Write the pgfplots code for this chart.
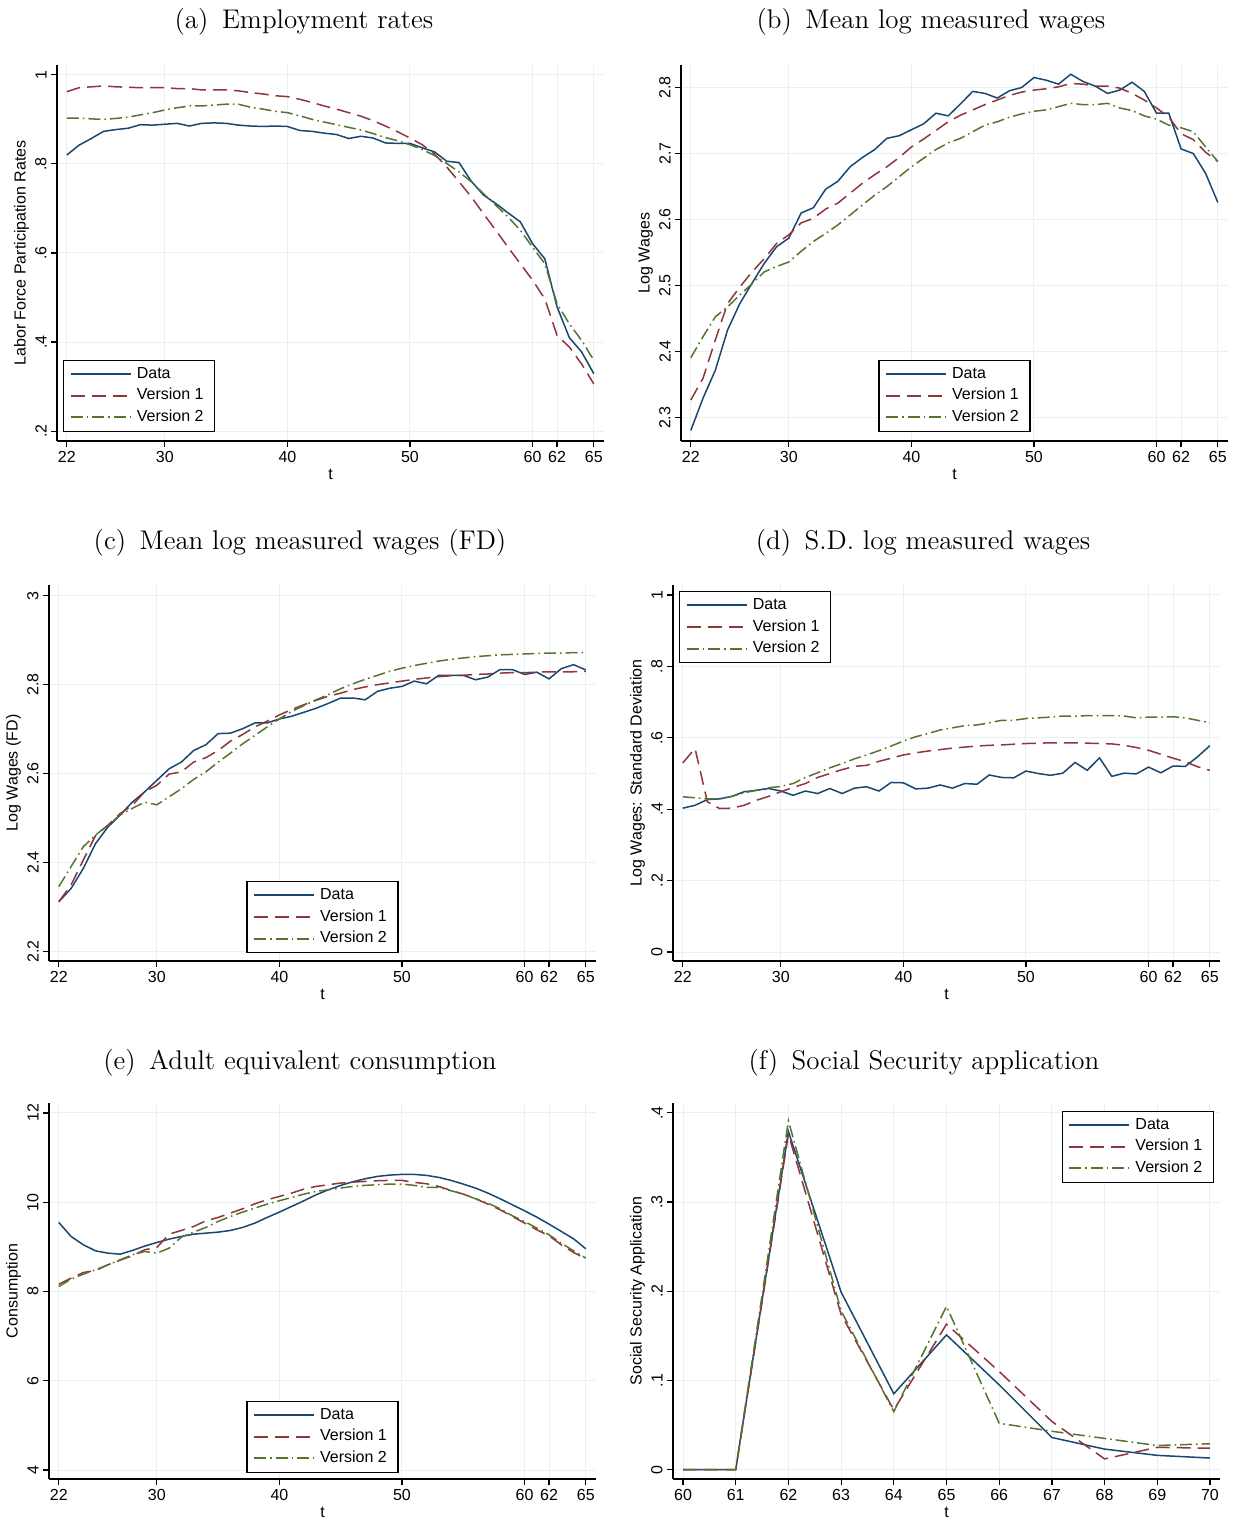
\documentclass[border=0pt]{standalone}
\usepackage{pgfplots}
\usepackage{pgfplotstable}
\pgfplotsset{compat=1.18}
\usepackage{fontspec}
\newfontfamily\arialf{Liberation Sans}
\definecolor{sdata}{RGB}{26,71,111}
\definecolor{sv1}{RGB}{144,53,59}
\definecolor{sv2}{RGB}{85,117,47}
\definecolor{gridc}{RGB}{232,241,242}

\pgfplotstableread{
t d v1 v2
22 0.820 0.962 0.903
23 0.842 0.971 0.903
24 0.857 0.973 0.901
25 0.873 0.975 0.900
26 0.877 0.973 0.902
27 0.880 0.972 0.905
28 0.888 0.971 0.910
29 0.887 0.971 0.915
30 0.889 0.971 0.921
31 0.891 0.969 0.926
32 0.885 0.969 0.930
33 0.891 0.966 0.930
34 0.892 0.966 0.932
35 0.891 0.966 0.934
36 0.887 0.964 0.934
37 0.885 0.960 0.927
38 0.884 0.957 0.923
39 0.885 0.953 0.918
40 0.884 0.951 0.915
41 0.875 0.945 0.908
42 0.873 0.938 0.900
43 0.869 0.930 0.894
44 0.866 0.923 0.888
45 0.857 0.915 0.882
46 0.862 0.907 0.876
47 0.858 0.897 0.868
48 0.847 0.885 0.859
49 0.846 0.872 0.852
50 0.846 0.858 0.843
51 0.836 0.843 0.832
52 0.827 0.822 0.819
53 0.806 0.793 0.801
54 0.803 0.760 0.782
55 0.761 0.726 0.760
56 0.730 0.688 0.733
57 0.711 0.651 0.707
58 0.690 0.613 0.681
59 0.670 0.576 0.651
60 0.621 0.539 0.613
61 0.587 0.497 0.576
62 0.479 0.415 0.486
63 0.410 0.389 0.441
64 0.378 0.351 0.404
65 0.329 0.306 0.359
}\tabA

\pgfplotstableread{
t d v1 v2
22 2.281 2.327 2.391
23 2.330 2.360 2.423
24 2.372 2.418 2.453
25 2.433 2.473 2.468
26 2.473 2.498 2.486
27 2.504 2.521 2.503
28 2.534 2.541 2.521
29 2.559 2.564 2.529
30 2.572 2.577 2.536
31 2.610 2.595 2.552
32 2.618 2.602 2.567
33 2.646 2.616 2.579
34 2.658 2.625 2.592
35 2.680 2.640 2.607
36 2.694 2.655 2.622
37 2.706 2.668 2.637
38 2.723 2.680 2.650
39 2.727 2.694 2.665
40 2.736 2.710 2.680
41 2.745 2.722 2.693
42 2.761 2.735 2.706
43 2.757 2.748 2.716
44 2.775 2.758 2.723
45 2.794 2.766 2.733
46 2.791 2.774 2.743
47 2.784 2.781 2.748
48 2.795 2.788 2.755
49 2.800 2.793 2.760
50 2.815 2.796 2.764
51 2.811 2.798 2.766
52 2.805 2.801 2.771
53 2.820 2.806 2.776
54 2.809 2.805 2.774
55 2.802 2.802 2.774
56 2.791 2.802 2.776
57 2.796 2.799 2.769
58 2.808 2.791 2.765
59 2.794 2.781 2.757
60 2.761 2.769 2.752
61 2.761 2.755 2.743
62 2.707 2.730 2.739
63 2.700 2.721 2.733
64 2.670 2.702 2.710
65 2.626 2.688 2.688
}\tabB

\pgfplotstableread{
t d v1 v2
22 2.312 2.312 2.346
23 2.342 2.350 2.391
24 2.387 2.406 2.436
25 2.443 2.461 2.462
26 2.480 2.484 2.484
27 2.507 2.510 2.507
28 2.536 2.529 2.522
29 2.559 2.559 2.536
30 2.585 2.574 2.530
31 2.611 2.599 2.548
32 2.626 2.604 2.566
33 2.652 2.626 2.587
34 2.665 2.636 2.604
35 2.690 2.652 2.626
36 2.691 2.673 2.646
37 2.701 2.688 2.667
38 2.714 2.705 2.686
39 2.714 2.718 2.705
40 2.723 2.732 2.723
41 2.729 2.744 2.740
42 2.738 2.755 2.753
43 2.747 2.765 2.766
44 2.758 2.774 2.778
45 2.770 2.781 2.791
46 2.770 2.789 2.802
47 2.766 2.795 2.812
48 2.785 2.800 2.821
49 2.792 2.804 2.830
50 2.796 2.808 2.837
51 2.808 2.812 2.843
52 2.802 2.815 2.848
53 2.821 2.818 2.853
54 2.821 2.820 2.857
55 2.821 2.821 2.860
56 2.811 2.823 2.863
57 2.817 2.824 2.865
58 2.834 2.826 2.867
59 2.834 2.827 2.868
60 2.823 2.827 2.869
61 2.828 2.828 2.870
62 2.813 2.829 2.871
63 2.836 2.829 2.871
64 2.845 2.829 2.872
65 2.833 2.830 2.872
}\tabC

\pgfplotstableread{
t d v1 v2
22 0.403 0.530 0.435
23 0.411 0.570 0.432
24 0.427 0.421 0.429
25 0.429 0.402 0.429
26 0.436 0.403 0.436
27 0.449 0.411 0.446
28 0.453 0.425 0.453
29 0.458 0.436 0.460
30 0.451 0.449 0.464
31 0.439 0.461 0.472
32 0.451 0.472 0.489
33 0.444 0.489 0.502
34 0.458 0.500 0.516
35 0.444 0.511 0.528
36 0.459 0.520 0.541
37 0.463 0.523 0.552
38 0.451 0.534 0.564
39 0.475 0.543 0.577
40 0.474 0.552 0.591
41 0.457 0.558 0.603
42 0.459 0.563 0.612
43 0.468 0.567 0.622
44 0.459 0.571 0.628
45 0.472 0.574 0.634
46 0.470 0.577 0.636
47 0.496 0.579 0.642
48 0.489 0.580 0.649
49 0.488 0.582 0.649
50 0.507 0.584 0.654
51 0.500 0.585 0.656
52 0.495 0.586 0.658
53 0.501 0.586 0.661
54 0.531 0.586 0.661
55 0.509 0.585 0.662
56 0.544 0.584 0.662
57 0.492 0.583 0.662
58 0.501 0.579 0.661
59 0.499 0.573 0.656
60 0.518 0.565 0.658
61 0.502 0.554 0.658
62 0.521 0.543 0.659
63 0.520 0.533 0.656
64 0.547 0.519 0.649
65 0.578 0.509 0.642
}\tabD

\pgfplotstableread{
t d v1 v2
22 9.548 8.164 8.112
23 9.234 8.299 8.277
24 9.047 8.426 8.389
25 8.912 8.471 8.486
26 8.860 8.598 8.598
27 8.837 8.703 8.710
28 8.920 8.800 8.822
29 9.017 8.935 8.897
30 9.099 8.987 8.860
31 9.174 9.286 8.972
32 9.234 9.368 9.219
33 9.286 9.458 9.331
34 9.308 9.585 9.436
35 9.331 9.660 9.570
36 9.368 9.757 9.682
37 9.436 9.854 9.780
38 9.533 9.966 9.869
39 9.660 10.056 9.959
40 9.780 10.131 10.034
41 9.907 10.206 10.108
42 10.034 10.295 10.183
43 10.168 10.355 10.243
44 10.280 10.393 10.280
45 10.378 10.430 10.318
46 10.460 10.452 10.355
47 10.527 10.467 10.378
48 10.579 10.482 10.393
49 10.609 10.490 10.407
50 10.624 10.490 10.407
51 10.624 10.445 10.378
52 10.602 10.415 10.333
53 10.557 10.355 10.333
54 10.490 10.265 10.258
55 10.407 10.183 10.183
56 10.318 10.079 10.079
57 10.206 9.959 9.981
58 10.079 9.832 9.854
59 9.944 9.682 9.697
60 9.809 9.533 9.570
61 9.667 9.383 9.421
62 9.510 9.249 9.271
63 9.346 9.047 9.084
64 9.181 8.875 8.912
65 8.957 8.733 8.748
}\tabE

\pgfplotstableread{
t d v1 v2
60 0 0 0
61 0 0 0
62 0.379 0.376 0.391
63 0.199 0.174 0.178
64 0.085 0.067 0.065
65 0.151 0.163 0.183
66 0.095 0.110 0.052
67 0.036 0.054 0.043
68 0.023 0.012 0.035
69 0.016 0.025 0.027
70 0.013 0.024 0.029
}\tabF

\pgfplotsset{
  stata/.style={
    scale only axis, width=273.5pt, height=188pt,
    anchor=south west,
    axis x line*=bottom, axis y line*=left,
    axis line style={-, line width=0.6pt, black},
    tick align=outside, major tick length=3pt,
    every tick/.style={black, line width=0.6pt},
    xmajorgrids, ymajorgrids,
    major grid style={gridc, line width=0.5pt},
    font=\arialf\fontsize{8}{9.6}\selectfont,
    /pgf/number format/assume math mode=true,
    yticklabel style={rotate=90, anchor=south, inner sep=2pt},
    xticklabel style={inner sep=2pt},
    xlabel={t},
    xlabel style={inner sep=1pt},
    ylabel style={inner sep=1pt},
    legend cell align=left,
    legend style={draw=black, line width=0.6pt, fill=white,
      font=\arialf\fontsize{8}{9.6}\selectfont,
      inner xsep=3pt, inner ysep=1.5pt, row sep=0pt,
      nodes={inner xsep=2.6pt, inner ysep=1.8pt}},
    legend image code/.code={\draw[#1, line width=1pt] (0pt,0pt) -- (30pt,0pt);},
  },
  t22/.style={xmin=21.2, xmax=65.83, xtick={22,30,40,50,60,62,65},
    xticklabels={22,30,40,50,60,62,65}},
  pdata/.style={sdata, line width=0.75pt, solid},
  pv1/.style={sv1, line width=0.75pt, dash pattern=on 7pt off 3.5pt},
  pv2/.style={sv2, line width=0.75pt, dash pattern=on 6pt off 2pt on 0.8pt off 2pt},
}

\begin{document}
\begin{tikzpicture}
\useasboundingbox (0,0) rectangle (617pt,761pt);

\node[font=\fontsize{13.5}{16}\selectfont] at (152pt,750pt) {(a)\enspace Employment rates};
\node[font=\fontsize{13.5}{16}\selectfont] at (465.5pt,750pt) {(b)\enspace Mean log measured wages};
\node[font=\fontsize{13.5}{16}\selectfont] at (150pt,489.5pt) {(c)\enspace Mean log measured wages (FD)};
\node[font=\fontsize{13.5}{16}\selectfont] at (461.5pt,489.5pt) {(d)\enspace S.D. log measured wages};
\node[font=\fontsize{13.5}{16}\selectfont] at (150pt,229.5pt) {(e)\enspace Adult equivalent consumption};
\node[font=\fontsize{13.5}{16}\selectfont] at (462pt,229.5pt) {(f)\enspace Social Security application};

% (a)
\begin{axis}[stata, t22, at={(28.5pt,540.5pt)},
  ymin=0.178, ymax=1.022, ytick={0.2,0.4,0.6,0.8,1}, yticklabels={.2,.4,.6,.8,1},
  ylabel={Labor Force Participation Rates},
  legend style={at={(0.011,0.024)}, anchor=south west}]
\addplot[pdata] table[x=t,y=d] {\tabA};
\addplot[pv1] table[x=t,y=v1] {\tabA};
\addplot[pv2] table[x=t,y=v2] {\tabA};
\legend{Data,Version 1,Version 2}
\end{axis}

% (b)
\begin{axis}[stata, t22, at={(340.5pt,540.5pt)},
  ymin=2.265, ymax=2.834, ytick={2.3,2.4,2.5,2.6,2.7,2.8}, yticklabels={2.3,2.4,2.5,2.6,2.7,2.8},
  ylabel={Log Wages},
  legend style={at={(0.5,0.024)}, anchor=south}]
\addplot[pdata] table[x=t,y=d] {\tabB};
\addplot[pv1] table[x=t,y=v1] {\tabB};
\addplot[pv2] table[x=t,y=v2] {\tabB};
\legend{Data,Version 1,Version 2}
\end{axis}

% (c)
\begin{axis}[stata, t22, at={(24.5pt,280.5pt)},
  ymin=2.179, ymax=3.024, ytick={2.2,2.4,2.6,2.8,3}, yticklabels={2.2,2.4,2.6,2.8,3},
  ylabel={Log Wages (FD)},
  legend style={at={(0.5,0.021)}, anchor=south}]
\addplot[pdata] table[x=t,y=d] {\tabC};
\addplot[pv1] table[x=t,y=v1] {\tabC};
\addplot[pv2] table[x=t,y=v2] {\tabC};
\legend{Data,Version 1,Version 2}
\end{axis}

% (d)
\begin{axis}[stata, t22, at={(336.5pt,280.5pt)},
  ymin=-0.025, ymax=1.028, ytick={0,0.2,0.4,0.6,0.8,1}, yticklabels={0,.2,.4,.6,.8,1},
  ylabel={Log Wages: Standard Deviation},
  legend style={at={(0.011,0.984)}, anchor=north west}]
\addplot[pdata] table[x=t,y=d] {\tabD};
\addplot[pv1] table[x=t,y=v1] {\tabD};
\addplot[pv2] table[x=t,y=v2] {\tabD};
\legend{Data,Version 1,Version 2}
\end{axis}

% (e)
\begin{axis}[stata, t22, at={(24.5pt,21.5pt)},
  ymin=3.8, ymax=12.224, ytick={4,6,8,10,12}, yticklabels={4,6,8,10,12},
  ylabel={Consumption},
  legend style={at={(0.5,0.016)}, anchor=south}]
\addplot[pdata] table[x=t,y=d] {\tabE};
\addplot[pv1] table[x=t,y=v1] {\tabE};
\addplot[pv2] table[x=t,y=v2] {\tabE};
\legend{Data,Version 1,Version 2}
\end{axis}

% (f)
\begin{axis}[stata, at={(336.5pt,21.5pt)},
  xmin=59.81, xmax=70.19, xtick={60,61,...,70},
  xticklabels={60,61,62,63,64,65,66,67,68,69,70},
  ymin=-0.0105, ymax=0.411, ytick={0,0.1,0.2,0.3,0.4}, yticklabels={0,.1,.2,.3,.4},
  ylabel={Social Security Application},
  legend style={at={(0.989,0.979)}, anchor=north east}]
\addplot[pdata] table[x=t,y=d] {\tabF};
\addplot[pv1] table[x=t,y=v1] {\tabF};
\addplot[pv2] table[x=t,y=v2] {\tabF};
\legend{Data,Version 1,Version 2}
\end{axis}
\end{tikzpicture}
\end{document}
